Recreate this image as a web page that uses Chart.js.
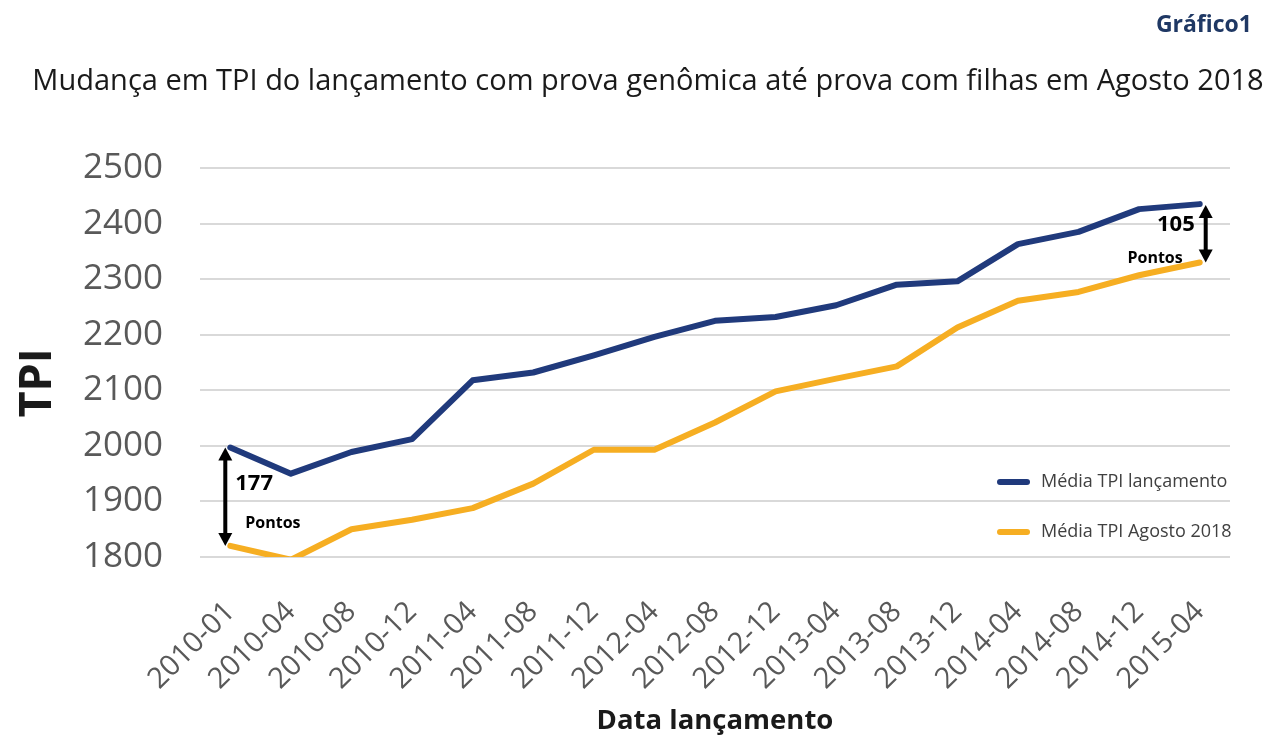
<!DOCTYPE html>
<html>
<head>
<meta charset="utf-8">
<script src="https://cdn.jsdelivr.net/npm/chart.js@4"></script>
<style>
  html, body { margin: 0; padding: 0; background: #fff; }
  .chart-container { position: relative; width: 1282px; height: 753px; }
</style>
</head>
<body>
<div class="chart-container"><canvas id="chart"></canvas></div>
<script>
// --- Data ---
const labels = ['2010-01', '2010-04', '2010-08', '2010-12', '2011-04', '2011-08', '2011-12', '2012-04', '2012-08',
    '2012-12', '2013-04', '2013-08', '2013-12', '2014-04', '2014-08', '2014-12', '2015-04'];
const mediaLancamento = [1997, 1950, 1989, 2012, 2118, 2132, 2163, 2196, 2225, 2232, 2253, 2290, 2296, 2363, 2385, 2426, 2435];
const mediaAgosto2018 = [1820, 1795, 1850, 1867, 1888, 1932, 1993, 1993, 2042, 2098, 2121, 2143, 2213, 2261, 2277, 2307, 2330];
const yTicks = [1800, 1900, 2000, 2100, 2200, 2300, 2400, 2500];

const COLORS = {
    BLUE: '#203A7C',
    YELLOW: '#F6AE22',
    GRID: '#D9D9D9',
    TICK: '#595959',
    NAVY: '#1F3864'
};
const FONT = "'Open Sans', 'Noto Sans', sans-serif";

// --- Plugin: titles, legend and arrows ---
function drawArrow(c, x, y1, y2) {
    const head = 13, half = 7;
    c.save();
    c.strokeStyle = '#000'; c.fillStyle = '#000'; c.lineWidth = 4;
    c.beginPath(); c.moveTo(x, y1 + head - 2); c.lineTo(x, y2 - head + 2); c.stroke();
    c.beginPath(); c.moveTo(x, y1); c.lineTo(x - half, y1 + head); c.lineTo(x + half, y1 + head); c.closePath(); c.fill();
    c.beginPath(); c.moveTo(x, y2); c.lineTo(x - half, y2 - head); c.lineTo(x + half, y2 - head); c.closePath(); c.fill();
    c.restore();
}

const extras = {
    id: 'extras',
    afterDraw(chart) {
        const c = chart.ctx;
        const xs = chart.scales.x, ys = chart.scales.y;
        const area = chart.chartArea;
        c.save();
        c.textBaseline = 'middle';

        // headings
        c.fillStyle = COLORS.NAVY;
        c.font = `bold 23px ${FONT}`;
        c.textAlign = 'right';
        c.fillText('Gráfico1', 1252, 25);
        c.fillStyle = '#1a1a1a';
        c.font = `29px ${FONT}`;
        c.textAlign = 'center';
        c.fillText('Mudança em TPI do lançamento com prova genômica até prova com filhas em Agosto 2018', 648, 82);

        // y axis title
        c.save();
        c.translate(38, 383);
        c.rotate(-Math.PI / 2);
        c.font = `bold 45px ${FONT}`;
        c.textAlign = 'center';
        c.fillText('TPI', 0, 0);
        c.restore();

        // legend
        const legend = [['Média TPI lançamento', COLORS.BLUE, 482], ['Média TPI Agosto 2018', COLORS.YELLOW, 532]];
        legend.forEach(([text, color, y]) => {
            c.strokeStyle = color; c.lineWidth = 6; c.lineCap = 'round';
            c.beginPath(); c.moveTo(area.right - 230, y); c.lineTo(area.right - 203, y); c.stroke();
            c.fillStyle = '#404040';
            c.font = `18px ${FONT}`;
            c.textAlign = 'left';
            c.fillText(text, area.right - 189, y);
        });

        // difference arrows
        const last = labels.length - 1;
        const xa = xs.getPixelForValue(0) - 5;
        const xb = xs.getPixelForValue(last) + 6;
        drawArrow(c, xa, ys.getPixelForValue(mediaLancamento[0]), ys.getPixelForValue(mediaAgosto2018[0]));
        drawArrow(c, xb, ys.getPixelForValue(mediaLancamento[last]) + 1, ys.getPixelForValue(mediaAgosto2018[last]));

        c.fillStyle = '#000';
        c.textAlign = 'left';
        c.font = `bold 22px ${FONT}`;
        c.fillText(String(mediaLancamento[0] - mediaAgosto2018[0]), xa + 10, 484);
        c.font = `bold 16px ${FONT}`;
        c.fillText('Pontos', xa + 20, 523);
        c.textAlign = 'right';
        c.font = `bold 22px ${FONT}`;
        c.fillText(String(mediaLancamento[last] - mediaAgosto2018[last]), xb - 11, 225);
        c.font = `bold 16px ${FONT}`;
        c.fillText('Pontos', xb - 23, 258);
        c.restore();
    }
};

// --- Chart ---
const ctx = document.getElementById('chart').getContext('2d');
const myChart = new Chart(ctx, {
    type: 'line',
    data: {
        labels: labels,
        datasets: [
            { label: 'Média TPI lançamento', data: mediaLancamento, borderColor: COLORS.BLUE, backgroundColor: COLORS.BLUE },
            { label: 'Média TPI Agosto 2018', data: mediaAgosto2018, borderColor: COLORS.YELLOW, backgroundColor: COLORS.YELLOW }
        ]
    },
    options: {
        responsive: true, maintainAspectRatio: false, animation: false,
        layout: { padding: { top: 168, left: 10, right: 52, bottom: 0 } },
        elements: {
            line: { borderWidth: 6, tension: 0, borderCapStyle: 'round', borderJoinStyle: 'round' },
            point: { radius: 0, hoverRadius: 0 }
        },
        plugins: { legend: { display: false }, title: { display: false }, tooltip: { enabled: false } },
        scales: {
            x: {
                offset: true,
                grid: { display: false, drawTicks: false },
                border: { display: false },
                ticks: { color: COLORS.TICK, font: { family: FONT, size: 29 }, minRotation: 45, maxRotation: 45, autoSkip: false, padding: 38 },
                title: { display: true, text: 'Data lançamento', color: '#1a1a1a', font: { family: FONT, size: 27.5, weight: 'bold' }, padding: { top: 0, bottom: 15 } },
                afterFit: s => { s.height = 196; }
            },
            y: {
                min: 1800, max: 2500,
                afterBuildTicks: s => { s.ticks = yTicks.map(v => ({ value: v })); },
                grid: { color: COLORS.GRID, lineWidth: 2, drawTicks: false },
                border: { display: false },
                ticks: { color: COLORS.TICK, font: { family: FONT, size: 35 }, padding: 37, callback: v => String(v) },
                afterFit: s => { s.width = 190; }
            }
        }
    },
    plugins: [extras]
});
</script>
</body>
</html>
